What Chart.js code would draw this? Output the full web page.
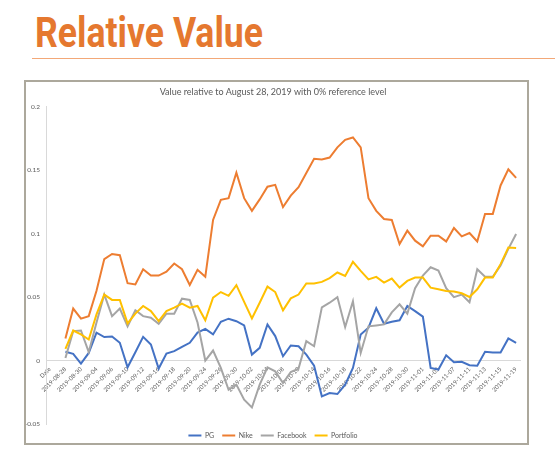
<!DOCTYPE html>
<html>
<head>
<meta charset="utf-8">
<title>Relative Value</title>
<script src="https://cdn.jsdelivr.net/npm/chart.js@4.4.1/dist/chart.umd.min.js"></script>
<style>
  html, body { margin: 0; padding: 0; background: #fff; }
  body { width: 560px; height: 457px; position: relative; overflow: hidden; }
  #heading {
    position: absolute; left: 35px; top: 12px;
    font: bold 42px/42px Roboto, sans-serif; color: #e5782f;
    white-space: nowrap; transform-origin: 0 0;
  }
  #rule { position: absolute; left: 32px; top: 58px; width: 523px; height: 0; border-top: 1.5px solid #f3a878; }
  #box { position: absolute; left: 24px; top: 80px; width: 501px; height: 361px; border: 2px solid #aca89c; }
  #chartCanvas { position: absolute; left: 26px; top: 82px; }
</style>
</head>
<body>
<div id="heading">Relative Value</div>
<div id="rule"></div>
<div id="box"></div>
<canvas id="chartCanvas" width="501" height="380"></canvas>

<script>
// data
const chartTitle = "Value relative to August 28, 2019 with 0% reference level";

const dates = [
  "2019-08-28","2019-08-29","2019-08-30","2019-09-03","2019-09-04","2019-09-05","2019-09-06",
  "2019-09-09","2019-09-10","2019-09-11","2019-09-12","2019-09-13","2019-09-16","2019-09-17",
  "2019-09-18","2019-09-19","2019-09-20","2019-09-23","2019-09-24","2019-09-25","2019-09-26",
  "2019-09-27","2019-09-30","2019-10-01","2019-10-02","2019-10-03","2019-10-04","2019-10-07",
  "2019-10-08","2019-10-09","2019-10-10","2019-10-11","2019-10-14","2019-10-15","2019-10-16",
  "2019-10-17","2019-10-18","2019-10-21","2019-10-22","2019-10-23","2019-10-24","2019-10-25",
  "2019-10-28","2019-10-29","2019-10-30","2019-10-31","2019-11-01","2019-11-04","2019-11-05",
  "2019-11-06","2019-11-07","2019-11-08","2019-11-11","2019-11-12","2019-11-13","2019-11-14",
  "2019-11-15","2019-11-18","2019-11-19"
];

// the sheet header row and an empty row sit in front of the dates on the axis
const categories = ["Date", ""].concat(dates);

const pg = [0.0069, 0.0053, -0.0024, 0.006, 0.022, 0.0185, 0.019, 0.014, -0.0053, 0.0066,
  0.0187, 0.0127, -0.0063, 0.0055, 0.0074, 0.0108, 0.014, 0.022, 0.025, 0.0206,
  0.0306, 0.033, 0.031, 0.0277, 0.0047, 0.010, 0.0285, 0.0193, 0.0034, 0.0119,
  0.0113, 0.0047, -0.004, -0.0282, -0.0256, -0.0264, -0.019, -0.0058, 0.0206, 0.0259,
  0.0412, 0.029, 0.0306, 0.0317, 0.043, 0.039, 0.0346, -0.0058, -0.0071, 0.0042,
  -0.0013, -0.001, -0.0037, -0.004, 0.0069, 0.0063, 0.0063, 0.0174, 0.014];

const nike = [0.0174, 0.041, 0.033, 0.035, 0.055, 0.080, 0.084, 0.083, 0.061, 0.060,
  0.072, 0.067, 0.067, 0.070, 0.0765, 0.072, 0.0596, 0.0715, 0.066, 0.1108,
  0.1267, 0.128, 0.148, 0.128, 0.118, 0.127, 0.137, 0.1385, 0.121, 0.130,
  0.1367, 0.1478, 0.159, 0.1585, 0.160, 0.168, 0.174, 0.1758, 0.168, 0.128,
  0.118, 0.1116, 0.1108, 0.0918, 0.1024, 0.0945, 0.090, 0.0984, 0.0984, 0.0939,
  0.1045, 0.0979, 0.1005, 0.0939, 0.1156, 0.1156, 0.138, 0.1507, 0.144];

const facebook = [0.002, 0.0232, 0.0237, 0.0066, 0.030, 0.052, 0.035, 0.041, 0.027, 0.0396,
  0.035, 0.0338, 0.029, 0.0369, 0.0369, 0.0488, 0.0478, 0.030, 0.0, 0.0079,
  -0.0058, -0.023, -0.019, -0.0309, -0.037, -0.019, -0.0053, -0.0085, -0.0177, -0.009,
  -0.0063, 0.0153, 0.0113, 0.042, 0.0456, 0.050, 0.0264, 0.0467, 0.006, 0.027,
  0.0277, 0.0285, 0.038, 0.0443, 0.037, 0.057, 0.067, 0.0735, 0.071, 0.057,
  0.050, 0.052, 0.046, 0.072, 0.066, 0.066, 0.075, 0.088, 0.0997];

const portfolio = [0.0092, 0.0237, 0.0206, 0.0166, 0.0364, 0.052, 0.0478, 0.0478, 0.0293, 0.037,
  0.043, 0.039, 0.031, 0.039, 0.0417, 0.0449, 0.0417, 0.043, 0.0317, 0.0496,
  0.054, 0.051, 0.0594, 0.0462, 0.0332, 0.0456, 0.0583, 0.054, 0.0396, 0.049,
  0.052, 0.0607, 0.0607, 0.062, 0.065, 0.0694, 0.0667, 0.0778, 0.0707, 0.064,
  0.066, 0.0615, 0.0646, 0.0575, 0.0628, 0.0654, 0.0654, 0.0575, 0.0562, 0.0549,
  0.0544, 0.053, 0.0501, 0.0562, 0.0654, 0.0654, 0.076, 0.0891, 0.0887];

const yTicks = [-0.05, 0, 0.05, 0.1, 0.15, 0.2];

// fit the heading to the width it has on the slide
const heading = document.getElementById('heading');
heading.style.transform = 'scaleX(' + (228 / heading.getBoundingClientRect().width) + ')';

const textColor = '#595959';
const axisColor = '#d9d9d9';

function series(label, values, color, order) {
  return {
    label: label,
    data: [null, null].concat(values),
    borderColor: color,
    backgroundColor: color,
    borderWidth: 2,
    pointRadius: 0,
    tension: 0,
    order: order
  };
}

const ctx = document.getElementById('chartCanvas').getContext('2d');

new Chart(ctx, {
  type: 'line',
  data: {
    labels: categories,
    datasets: [
      series('PG', pg, '#4472c4', 3),
      series('Nike', nike, '#ed7d31', 2),
      series('Facebook', facebook, '#a5a5a5', 1),
      series('Portfolio', portfolio, '#ffc000', 0)
    ]
  },
  options: {
    responsive: false,
    animation: false,
    devicePixelRatio: 1,
    layout: { padding: { left: 0, right: 7, top: 0, bottom: 13 } },
    plugins: {
      title: {
        display: true,
        text: chartTitle,
        color: textColor,
        font: { family: 'Lato', size: 9, weight: 'normal' },
        padding: { top: 5, bottom: 9 }
      },
      legend: {
        position: 'bottom',
        labels: {
          usePointStyle: true,
          pointStyle: 'line',
          pointStyleWidth: 13,
          padding: 8,
          color: textColor,
          font: { family: 'Lato', size: 7 },
          // keep series order in the legend (draw order is set by "order")
          sort: (a, b) => a.datasetIndex - b.datasetIndex
        }
      },
      tooltip: { enabled: false }
    },
    scales: {
      x: {
        position: { y: 0 },
        offset: true,
        grid: { display: false, drawTicks: false },
        border: { color: axisColor, width: 1 },
        ticks: {
          autoSkip: false,
          minRotation: 45,
          maxRotation: 45,
          padding: 5,
          color: textColor,
          font: { family: 'Lato', size: 6 },
          callback: (v, i) => i % 2 === 0 ? categories[i] : ''
        }
      },
      y: {
        min: yTicks[0],
        max: yTicks[yTicks.length - 1],
        afterFit: s => { s.width = 20; },
        afterBuildTicks: s => { s.ticks = yTicks.map(v => ({ value: v })); },
        grid: { display: false, drawTicks: false },
        border: { color: axisColor, width: 1 },
        ticks: {
          padding: 6,
          color: textColor,
          font: { family: 'Lato', size: 6.5 },
          callback: v => String(+v.toFixed(2))
        }
      }
    }
  }
});
</script>
</body>
</html>
